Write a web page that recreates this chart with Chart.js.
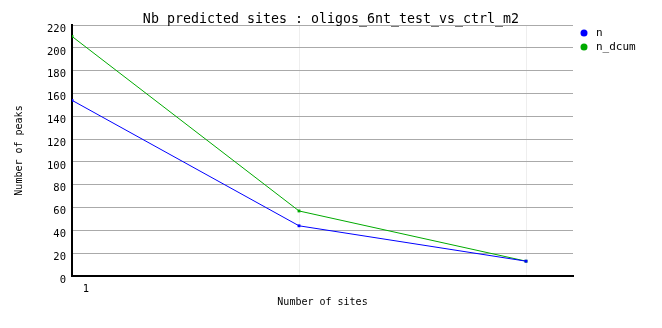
<!DOCTYPE html>
<html>
<head>
<meta charset="utf-8">
<script src="https://cdn.jsdelivr.net/npm/chart.js@4/dist/chart.umd.min.js"></script>
<style>
  html, body { margin: 0; padding: 0; background: #fff; }
  #wrap { width: 662px; height: 328px; }
</style>
</head>
<body>
<div id="wrap"><canvas id="chart" width="662" height="328"></canvas></div>
<script>
const chartTitle = 'Nb predicted sites : oligos_6nt_test_vs_ctrl_m2';
const siteCounts = [1, 2, 3];
const peaksN = [154, 44, 13];
const peaksDcum = [210, 57, 13];
const seriesNames = ['n', 'n_dcum'];
const seriesColours = ['#0000ff', '#00aa00'];
const yTicks = [0, 20, 40, 60, 80, 100, 120, 140, 160, 180, 200, 220];

const monoFont = "'DejaVu Sans Mono', 'Liberation Mono', monospace";

function toPoints(values) {
  return siteCounts.map((x, i) => ({ x, y: values[i] }));
}

// title and legend drawn outside the plot area, like the original
const titleLegendPlugin = {
  id: 'titleLegend',
  afterDraw(chart) {
    const { ctx } = chart;
    ctx.save();
    ctx.fillStyle = '#000';
    ctx.font = `13.3px ${monoFont}`;
    ctx.textAlign = 'center';
    ctx.textBaseline = 'alphabetic';
    ctx.fillText(chartTitle, chart.width / 2, 23);

    ctx.font = `11px ${monoFont}`;
    ctx.textAlign = 'left';
    ctx.textBaseline = 'middle';
    chart.data.datasets.forEach((ds, i) => {
      const y = 33 + i * 14;
      ctx.fillStyle = ds.borderColor;
      ctx.beginPath();
      ctx.arc(584, y, 3.5, 0, Math.PI * 2);
      ctx.fill();
      ctx.fillStyle = '#000';
      ctx.fillText(ds.label, 596, y);
    });
    ctx.restore();
  },
};

new Chart(document.getElementById('chart'), {
  type: 'line',
  data: {
    datasets: [
      {
        label: seriesNames[0],
        data: toPoints(peaksN),
        borderColor: seriesColours[0],
        backgroundColor: seriesColours[0],
      },
      {
        label: seriesNames[1],
        data: toPoints(peaksDcum),
        borderColor: seriesColours[1],
        backgroundColor: seriesColours[1],
      },
    ],
  },
  plugins: [titleLegendPlugin],
  options: {
    responsive: false,
    animation: false,
    layout: { padding: { top: 25, right: 89, left: 0, bottom: 0 } },
    elements: {
      line: { borderWidth: 1, tension: 0, fill: false },
      point: { pointStyle: 'rect', radius: 2, borderWidth: 0 },
    },
    scales: {
      x: {
        type: 'linear',
        min: 1,
        max: 3.207,
        afterFit(scale) { scale.height = 52; },
        afterBuildTicks(scale) {
          scale.ticks = siteCounts.map((v) => ({ value: v }));
        },
        ticks: {
          color: '#000',
          font: { family: monoFont, size: 10.5 },
          padding: 7,
          labelOffset: 14,
          maxRotation: 0,
          autoSkip: false,
          callback: (value) => (value === siteCounts[0] ? String(value) : ''),
        },
        grid: {
          drawTicks: false,
          color: (c) => (c.tick && c.tick.value === siteCounts[0] ? 'rgba(0,0,0,0)' : '#eeeeee'),
          lineWidth: 1,
        },
        border: { color: '#000', width: 2 },
        title: {
          display: true,
          text: 'Number of sites',
          color: '#000',
          font: { family: monoFont, size: 10 },
          padding: { top: 0, bottom: 20 },
        },
      },
      y: {
        min: 0,
        max: 220,
        afterFit(scale) { scale.width = 72; },
        afterBuildTicks(scale) {
          scale.ticks = yTicks.map((v) => ({ value: v }));
        },
        ticks: {
          color: '#000',
          font: { family: monoFont, size: 10.5 },
          padding: 6,
          labelOffset: 4,
        },
        grid: {
          drawTicks: false,
          color: '#aaaaaa',
          lineWidth: 1,
        },
        border: { color: '#000', width: 2 },
        title: {
          display: true,
          text: 'Number of peaks',
          color: '#000',
          font: { family: monoFont, size: 10 },
          padding: { top: 13, bottom: 0 },
        },
      },
    },
    plugins: {
      legend: { display: false },
      title: { display: false },
      tooltip: { enabled: false },
    },
  },
});
</script>
</body>
</html>
